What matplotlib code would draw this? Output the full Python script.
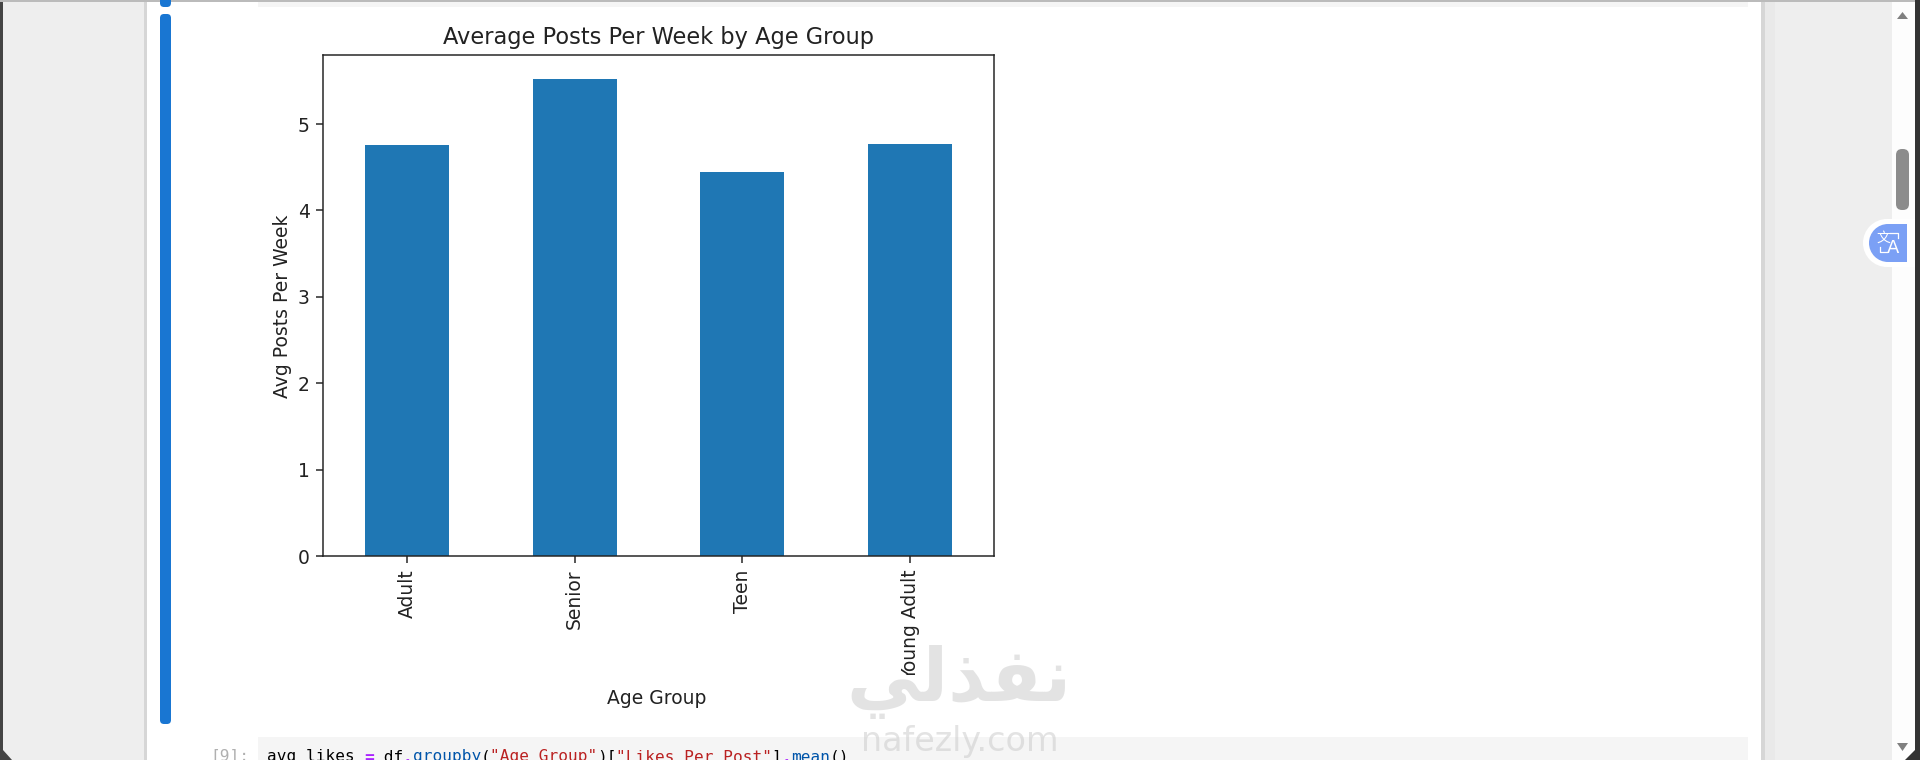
import matplotlib
matplotlib.use("Agg")
import matplotlib.pyplot as plt
from matplotlib.patches import Circle, FancyBboxPatch, Polygon, Rectangle
from matplotlib.transforms import Bbox

W, H = 1920, 760
SCALE = 1.353  # the notebook picture is an upscaled default matplotlib figure

age_groups = ["Adult", "Senior", "Teen", "Young Adult"]
avg_posts = [4.76, 5.52, 4.44, 4.77]
y_ticks = [0, 1, 2, 3, 4, 5]

# (text, colour, bold) pieces of the code line under the chart
code_parts = [
    ("avg_likes ", "#000000", False),
    ("=", "#aa22ff", True),
    (" df", "#000000", False),
    (".", "#aa22ff", True),
    ("groupby", "#0055aa", False),
    ("(", "#000000", False),
    ('"Age Group"', "#ba2121", False),
    (")[", "#000000", False),
    ('"Likes Per Post"', "#ba2121", False),
    ("]", "#000000", False),
    (".", "#aa22ff", True),
    ("mean", "#0055aa", False),
    ("()", "#000000", False),
]

fig = plt.figure(figsize=(W / 100, H / 100), dpi=100, facecolor="#eeeeee")

# --- page chrome, in pixel coordinates -------------------------------- #
bg = fig.add_axes([0, 0, 1, 1], zorder=0)
bg.set_xlim(0, W)
bg.set_ylim(H, 0)
bg.axis("off")


def box(x0, y0, x1, y1, color, **kw):
    bg.add_patch(Rectangle((x0, y0), x1 - x0, y1 - y0, color=color, lw=0, **kw))


def pill(x0, y0, x1, y1, color, r=4):
    bg.add_patch(FancyBboxPatch((x0 + r, y0 + r), x1 - x0 - 2 * r, y1 - y0 - 2 * r,
                                boxstyle=f"round,pad={r},rounding_size={r}",
                                fc=color, ec="none"))


box(0, 0, 3, H, "#444444")
bg.add_patch(Polygon([[3, 750], [3, H], [12, H]], fc="#444444", ec="none"))
box(144, 0, 147, H, "#d6d6d6")
box(1761, 0, 1765, H, "#d6d6d6")
box(1765, 0, 1775, H, "#e9e9e9")
box(147, 0, 1761, H, "#ffffff")
box(258, 0, 1748, 7, "#f5f5f5")
box(258, 737, 1748, H, "#f5f5f5")
box(1892, 0, 1915, H, "#fdfdfd")
box(1915, 0, W, H, "#333333")
bg.add_patch(Polygon([[1915, 750], [1915, H], [1905, H]], fc="#333333", ec="none"))
box(0, 0, 1915, 2, "#bbbbbb")

pill(160, -6, 171, 7, "#1976d2")
pill(160, 14, 171, 724, "#1976d2")

# scrollbar
pill(1896, 149, 1909, 210, "#8c8c8c", r=6)
bg.add_patch(Polygon([[1897, 19], [1908, 19], [1902.5, 12]], fc="#808080", ec="none"))
bg.add_patch(Polygon([[1897, 743], [1908, 743], [1902.5, 751]], fc="#808080", ec="none"))

# translate button
bg.add_patch(Circle((1887, 243), 24, fc="#ffffff", ec="none"))
box(1887, 219, 1915, 267, "#ffffff")
bg.add_patch(Circle((1888, 243), 19, fc="#7ba0f5", ec="none"))
box(1888, 224, 1907, 262, "#7ba0f5")
bg.text(1883, 238, "文", color="white", fontsize=10, ha="center", va="center",
        family=["Noto Sans CJK SC", "DejaVu Sans"])
bg.text(1893, 248, "A", color="white", fontsize=13, ha="center", va="center")
bg.plot([1890, 1898, 1898], [233, 233, 238], color="white", lw=0.9)
bg.plot([1880, 1880, 1887], [247, 252, 252], color="white", lw=0.9)

# next code cell
bg.text(249, 756, "[9]:", color="#b0b0b0", fontsize=11.6, ha="right", va="center",
        family="DejaVu Sans Mono")
x = 267
for part, color, bold in code_parts:
    bg.text(x, 757, part, color=color, fontsize=11.6, va="center", ha="left",
            family="DejaVu Sans Mono", fontweight="bold" if bold else "normal")
    x += len(part) * 9.7

# --- the chart --------------------------------------------------------- #
ax = fig.add_axes([323 / W, 1 - 556 / H, 671 / W, 501 / H], zorder=1)
ax.bar(range(len(age_groups)), avg_posts, width=0.5, color="#1f77b4")
ax.set_xlim(-0.5, 3.5)
ax.set_ylim(0, 5.8)
ax.set_yticks(y_ticks)
ax.set_xticks(range(len(age_groups)))
ax.set_xticklabels(age_groups, rotation=90)
ax.tick_params(labelsize=10 * SCALE, length=3.5 * SCALE, width=0.8 * SCALE,
               pad=3.5 * SCALE, colors="#222222")
for spine in ax.spines.values():
    spine.set_linewidth(0.8 * SCALE)
    spine.set_color("#222222")
ax.set_title("Average Posts Per Week by Age Group", fontsize=12 * SCALE,
             pad=6 * SCALE, color="#222222")
ax.set_xlabel("Age Group", fontsize=10 * SCALE, va="center", color="#222222")
ax.xaxis.set_label_coords(0.5 - 1.5 / 671, (556 - 698) / 501)
ax.set_ylabel("Avg Posts Per Week", fontsize=10 * SCALE, va="center", color="#222222")
ax.yaxis.set_label_coords((282 - 323) / 671, 0.498)

# the original saved figure cut the longest label off at its lower edge
clip = Bbox([[0, H - 675], [W, H]])
for label in ax.get_xticklabels():
    label.set_clip_box(clip)
    label.set_clip_on(True)

# --- watermark on top -------------------------------------------------- #
top = fig.add_axes([0, 0, 1, 1], zorder=2)
top.patch.set_alpha(0)
top.set_xlim(0, W)
top.set_ylim(H, 0)
top.axis("off")
top.text(959, 682, "\ufef2\ufedf\ufeac\ufed4\ufee7", color="#c8c8c8", alpha=0.5,
         fontsize=53, fontweight="bold", ha="center", va="center",
         family="DejaVu Sans")
top.text(960, 742, "nafezly.com", color="#c8c8c8", alpha=0.5, fontsize=24,
         ha="center", va="center", family="DejaVu Sans")

fig.savefig("out.png", dpi=100)
